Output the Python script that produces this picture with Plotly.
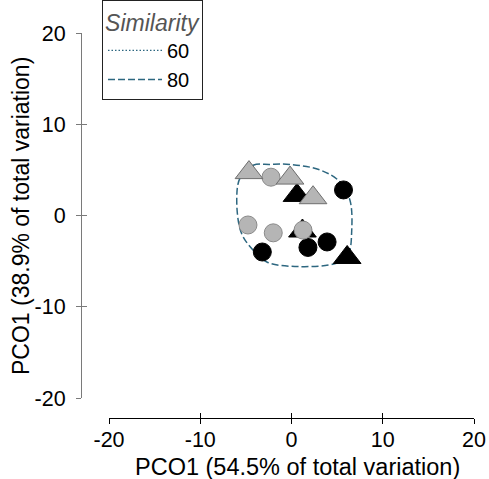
import plotly.graph_objects as go

# ---- data ----
black_tri_x = [0.6, 1.2, 6.1]
black_tri_y = [2.2, -1.7, -4.6]
gray_tri_x = [-4.66, -0.16, 2.36]
gray_tri_y = [4.7, 4.1, 1.95]
black_circ_x = [-3.2, 1.8, 3.9, 5.7]
black_circ_y = [-4.0, -3.5, -2.9, 2.8]
gray_circ_x = [-2.25, -4.77, -2.0, 1.26]
gray_circ_y = [4.2, -1.04, -1.9, -1.6]

contour80_x = [-5.64, -4.2, -2.36, -0.16, 3.1, 5.3, 6.4, 6.6, 6.2, 5.0, 0.9, -2.7, -4.2, -5.5, -6.0, -5.64]
contour80_y = [4.1, 5.5, 5.6, 5.6, 5.0, 3.7, 1.7, -1.6, -4.3, -5.2, -5.6, -5.1, -3.8, -1.9, 1.7, 4.1]

tick_vals = [-20, -10, 0, 10, 20]
tick_text = ["-20", "-10", "0", "10", "20"]

FONT = "Arial, Liberation Sans, sans-serif"
LINEC = "#2d6780"
W, H = 489, 479


def px_x(p):
    return p / W


def px_y(p):
    return 1 - p / H


fig = go.Figure()

fig.add_trace(go.Scatter(x=[None], y=[None], mode="lines", name="60",
                         line=dict(color=LINEC, width=1.2, dash="1.5px,2px")))
fig.add_trace(go.Scatter(x=contour80_x, y=contour80_y, mode="lines", name="80",
                         line=dict(color=LINEC, width=1.5, dash="7px,3px", shape="spline", smoothing=1.0)))

fig.add_trace(go.Scatter(x=black_tri_x, y=black_tri_y, mode="markers", showlegend=False,
                         marker=dict(symbol="triangle-up", size=24, color="black",
                                     line=dict(color="black", width=1))))
fig.add_trace(go.Scatter(x=black_circ_x, y=black_circ_y, mode="markers", showlegend=False,
                         marker=dict(symbol="circle", size=18, color="black",
                                     line=dict(color="black", width=1))))
fig.add_trace(go.Scatter(x=gray_circ_x, y=gray_circ_y, mode="markers", showlegend=False,
                         marker=dict(symbol="circle", size=18, color="#b5b5b5",
                                     line=dict(color="#8a8a8a", width=1))))
fig.add_trace(go.Scatter(x=gray_tri_x, y=gray_tri_y, mode="markers", showlegend=False,
                         marker=dict(symbol="triangle-up", size=24, color="#b5b5b5",
                                     line=dict(color="#6e6e6e", width=1))))
# dummy for overlay axes (crossing ticks)
fig.add_trace(go.Scatter(x=[None], y=[None], xaxis="x2", yaxis="y2", showlegend=False))

xdom = [px_x(109), px_x(474)]
ydom = [px_y(398), px_y(33)]
xpos = px_y(418)
ypos = px_x(81)

common_x = dict(range=[-20, 20], domain=xdom, anchor="free", position=xpos,
                tickvals=tick_vals, zeroline=False, showgrid=False, automargin=False,
                linecolor="black", tickcolor="black", ticklen=5, tickwidth=1)
common_y = dict(range=[-20, 20], domain=ydom, anchor="free", position=ypos,
                tickvals=tick_vals, zeroline=False, showgrid=False, automargin=False,
                linecolor="#7a7a7a", tickcolor="#7a7a7a", ticklen=5, tickwidth=1)

fig.update_layout(
    width=W, height=H,
    margin=dict(l=0, r=0, t=0, b=0),
    paper_bgcolor="white", plot_bgcolor="white",
    font=dict(family=FONT, size=21.5, color="black"),
    xaxis=dict(**common_x, showline=True, ticks="outside", ticktext=tick_text,
               ticklabelstandoff=-3, ticklabeloverflow="allow",
               tickfont=dict(size=21.5, color="black")),
    yaxis=dict(**common_y, showline=True, ticks="outside", ticktext=tick_text,
               ticklabelstandoff=6, ticklabeloverflow="allow",
               tickfont=dict(size=21.5, color="black")),
    xaxis2=dict(**common_x, overlaying="x", showline=False, ticks="inside", showticklabels=False),
    yaxis2=dict(**common_y, overlaying="y", showline=False, ticks="inside", showticklabels=False),
    legend=dict(x=px_x(102), y=1.0, xanchor="left", yanchor="top",
                bordercolor="#222222", borderwidth=1, bgcolor="white",
                font=dict(size=20, color="black", family=FONT),
                title=dict(text="Similarity", side="top center",
                           font=dict(size=23, color="#555555", family=FONT, style="italic")),
                tracegroupgap=0, itemwidth=54),
    annotations=[
        dict(text="PCO1 (54.5% of total variation)", xref="paper", yref="paper",
             x=px_x(297), y=px_y(467), xanchor="center", yanchor="middle",
             showarrow=False, font=dict(size=23.5, color="black")),
        dict(text="PCO1 (38.9% of total variation)", xref="paper", yref="paper",
             x=px_x(21), y=px_y(216), xanchor="center", yanchor="middle",
             showarrow=False, textangle=-90, font=dict(size=23, color="black")),
    ],
)

fig.write_html(
    "out.html",
    config={"displayModeBar": False},
    post_script="document.body.style.margin='0';document.body.style.overflow='hidden';",
)
